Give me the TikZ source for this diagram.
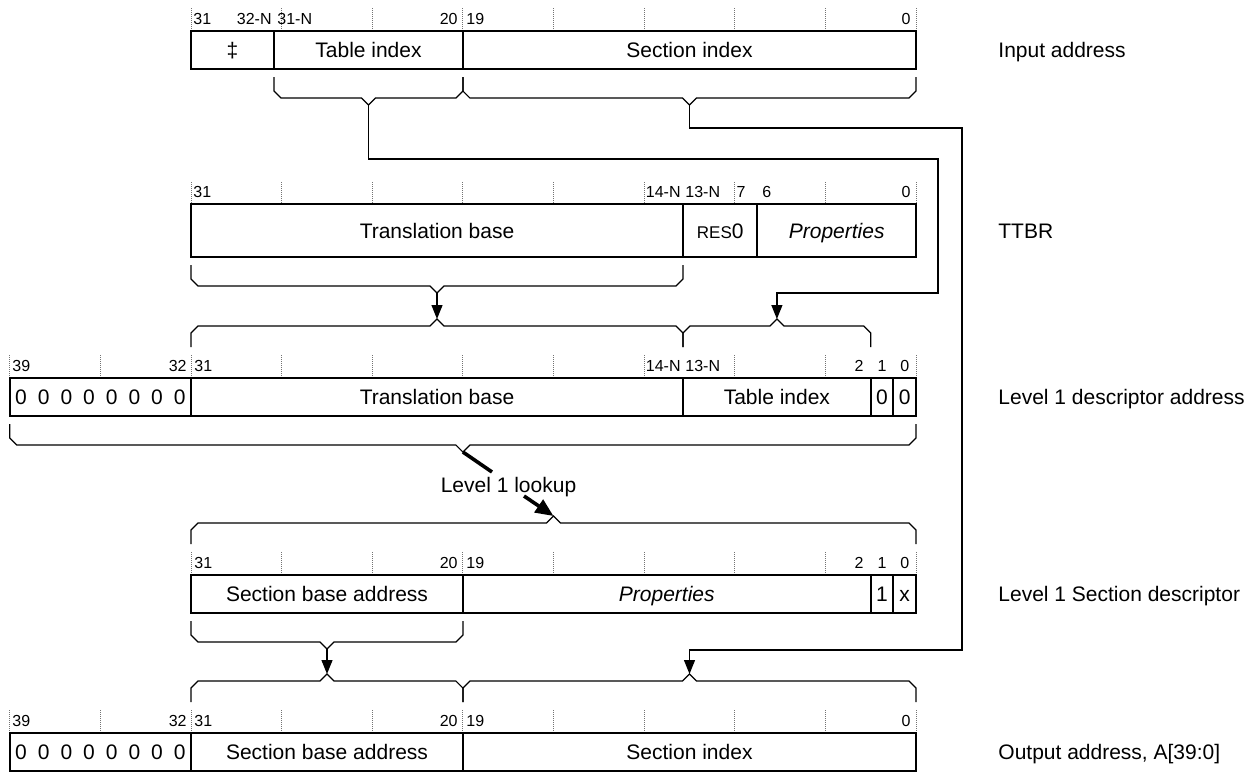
\documentclass[tikz,border=0pt]{standalone}
\usepackage{fontspec}
\setmainfont{Liberation Sans}
\usetikzlibrary{arrows.meta}
\newcommand\BrUnder[4]{% x1, xm, x2, y of stub start (below a box)
  \draw[brc] (#1,#4) -- (#1,{#4+14}) -- ({#1+7},{#4+21}) -- ({#2-7},{#4+21}) -- (#2,{#4+28})
    -- ({#2+7},{#4+21}) -- ({#3-7},{#4+21}) -- (#3,{#4+14}) -- (#3,#4);}
\newcommand\BrOver[4]{% x1, xm, x2, y of stub end (above a box)
  \draw[brc] (#1,#4) -- (#1,{#4-14}) -- ({#1+7},{#4-21}) -- ({#2-7},{#4-21}) -- (#2,{#4-28})
    -- ({#2+7},{#4-21}) -- ({#3-7},{#4-21}) -- (#3,{#4-14}) -- (#3,#4);}
\begin{document}
\begin{tikzpicture}[x=0.5pt,y=-0.5pt,
  box/.style={line width=1pt},
  brc/.style={line width=0.6pt},
  tick/.style={black!55, line width=0.4pt, dash pattern=on 0.5pt off 0.5pt},
  fld/.style={font=\fontsize{10.5}{12}\selectfont, inner sep=0pt, text height=7.5pt, text depth=0pt},
  bitn/.style={font=\fontsize{8}{9}\selectfont, inner sep=0pt, text height=5.7pt, text depth=0pt},
  rl/.style={fld, anchor=west},
  conn/.style={line width=0.6pt},
  arr/.style={conn, -{Triangle[length=7pt,width=5.5pt]}},
  lk/.style={line width=1.8pt},
]
\useasboundingbox (0,0) rectangle (1258,772);

% ---------------- Row 1: Input address ----------------
\foreach \k in {0,...,8} \draw[tick] ({191+\k*90.625},8) -- ({191+\k*90.625},31);
\draw[box] (191,31) rectangle (916,69);
\draw[box] (274,31) -- (274,69);
\draw[box] (462.9,31) -- (462.9,69);
\node[fld] (ia1) at (232.5,50) {‡};
\node[fld] (ia2) at (368.5,50) {Table index};
\node[fld] (ia3) at (689.5,50) {Section index};
\node[bitn,anchor=west] (ib1) at (193,19) {31};
\node[bitn,anchor=east] (ib2) at (272,19) {32-N};
\node[bitn,anchor=west] (ib3) at (277,19) {31-N};
\node[bitn,anchor=east] (ib4) at (458,19) {20};
\node[bitn,anchor=west] (ib5) at (466,19) {19};
\node[bitn,anchor=east] (ib6) at (911,19) {0};
\node[rl] (lab1) at (998,50) {Input address};
\BrUnder{274}{368.5}{462.9}{77}
\BrUnder{462.9}{689.5}{916}{77}
\coordinate (tA) at (368.5,105);
\coordinate (tB) at (689.5,105);

% ---------------- Row 2: TTBR ----------------
\foreach \k in {0,...,8} \draw[tick] ({191+\k*90.625},182) -- ({191+\k*90.625},204);
\draw[box] (191,204) rectangle (916,257);
\draw[box] (683,204) -- (683,257);
\draw[box] (757.4,204) -- (757.4,257);
\node[fld] (tt1) at (437,230.5) {Translation base};
\node[fld] (tt2) at (720.2,230.5) {{\fontsize{8.5}{10}\selectfont RES}0};
\node[fld] (tt3) at (836.7,230.5) {\itshape Properties};
\node[bitn,anchor=west] (tb1) at (193,192) {31};
\node[bitn,anchor=east] (tb2) at (681,192) {14-N};
\node[bitn,anchor=west] (tb3) at (685,192) {13-N};
\node[bitn,anchor=east] (tb4) at (746,192) {7};
\node[bitn,anchor=west] (tb5) at (762,192) {6};
\node[bitn,anchor=east] (tb6) at (911,192) {0};
\node[rl] (lab2) at (998,230.5) {TTBR};
\BrUnder{191}{437}{683}{265}
\coordinate (tT) at (437,293);

% ---------------- Row 3: Level 1 descriptor address ----------------
\BrOver{191}{437}{683}{347}
\BrOver{683}{776.9}{870.7}{347}
\coordinate (pLa) at (437,319);
\coordinate (pLb) at (776.9,319);
\foreach \k in {-2,...,8} \draw[tick] ({191+\k*90.625},355) -- ({191+\k*90.625},378);
\draw[box] (9.75,378) rectangle (916,416);
\foreach \x in {191,683,870.7,893.3} \draw[box] (\x,378) -- (\x,416);
\foreach \i in {0,...,7} \node[fld] (lz\i) at ({9.75+(\i+0.5)*22.656},397) {0};
\node[fld] (l1) at (437,397) {Translation base};
\node[fld] (l2) at (776.9,397) {Table index};
\node[fld] (l3) at (882,397) {0};
\node[fld] (l4) at (904.7,397) {0};
\node[bitn,anchor=west] (lb1) at (12,366) {39};
\node[bitn,anchor=east] (lb2) at (187,366) {32};
\node[bitn,anchor=west] (lb3) at (194,366) {31};
\node[bitn,anchor=east] (lb4) at (681,366) {14-N};
\node[bitn,anchor=west] (lb5) at (685,366) {13-N};
\node[bitn,anchor=east] (lb6) at (864,366) {2};
\node[bitn] (lb7) at (882,366) {1};
\node[bitn] (lb8) at (904.7,366) {0};
\node[rl] (lab3) at (998,397) {Level 1 descriptor address};
\BrUnder{9.75}{462.9}{916}{424}
\coordinate (tL) at (462.9,452);

% ---------------- Lookup ----------------
\node[fld] (look) at (508.5,485) {Level 1 lookup};
\coordinate (k1) at (492,472);
\coordinate (k2) at (524,496);
\coordinate (pS) at (553.5,516);
\draw[lk] (tL) -- (k1);
\draw[lk, -{Triangle[length=9pt,width=7.5pt]}] (k2) -- (pS);

% ---------------- Row 4: Level 1 Section descriptor ----------------
\BrOver{191}{553.5}{916}{544}
\foreach \k in {0,...,8} \draw[tick] ({191+\k*90.625},552) -- ({191+\k*90.625},575);
\draw[box] (191,575) rectangle (916,613);
\foreach \x in {462.9,870.7,893.3} \draw[box] (\x,575) -- (\x,613);
\node[fld] (s1) at (327,594) {Section base address};
\node[fld] (s2) at (666.8,594) {\itshape Properties};
\node[fld] (s3) at (882,594) {1};
\node[fld] (s4) at (904.7,594) {x};
\node[bitn,anchor=west] (sb1) at (194,563) {31};
\node[bitn,anchor=east] (sb2) at (458,563) {20};
\node[bitn,anchor=west] (sb3) at (466,563) {19};
\node[bitn,anchor=east] (sb4) at (864,563) {2};
\node[bitn] (sb5) at (882,563) {1};
\node[bitn] (sb6) at (904.7,563) {0};
\node[rl] (lab4) at (998,594) {Level 1 Section descriptor};
\BrUnder{191}{327}{462.9}{621}
\coordinate (tS) at (327,649);

% ---------------- Row 5: Output address ----------------
\BrOver{191}{327}{462.9}{702}
\BrOver{462.9}{689.5}{916}{702}
\coordinate (pOa) at (327,674);
\coordinate (pOb) at (689.5,674);
\foreach \k in {-2,...,8} \draw[tick] ({191+\k*90.625},710) -- ({191+\k*90.625},733);
\draw[box] (9.75,733) rectangle (916,771);
\foreach \x in {191,462.9} \draw[box] (\x,733) -- (\x,771);
\foreach \i in {0,...,7} \node[fld] (oz\i) at ({9.75+(\i+0.5)*22.656},752) {0};
\node[fld] (o1) at (327,752) {Section base address};
\node[fld] (o2) at (689.5,752) {Section index};
\node[bitn,anchor=west] (ob1) at (12,721) {39};
\node[bitn,anchor=east] (ob2) at (187,721) {32};
\node[bitn,anchor=west] (ob3) at (194,721) {31};
\node[bitn,anchor=east] (ob4) at (458,721) {20};
\node[bitn,anchor=west] (ob5) at (466,721) {19};
\node[bitn,anchor=east] (ob6) at (911,721) {0};
\node[rl] (lab5) at (998,752) {Output address, A[39:0]};

% ---------------- Connectors ----------------
\coordinate (a1) at (938,159);
\coordinate (a2) at (938,293);
\coordinate (b1) at (962,128);
\coordinate (b2) at (962,650);
\draw[arr] (tA) |- (a1) -- (a2) -| (pLb);
\draw[arr] (tT) -- (pLa);
\draw[arr] (tB) |- (b1) -- (b2) -| (pOb);
\draw[arr] (tS) -- (pOa);
\end{tikzpicture}
\end{document}
